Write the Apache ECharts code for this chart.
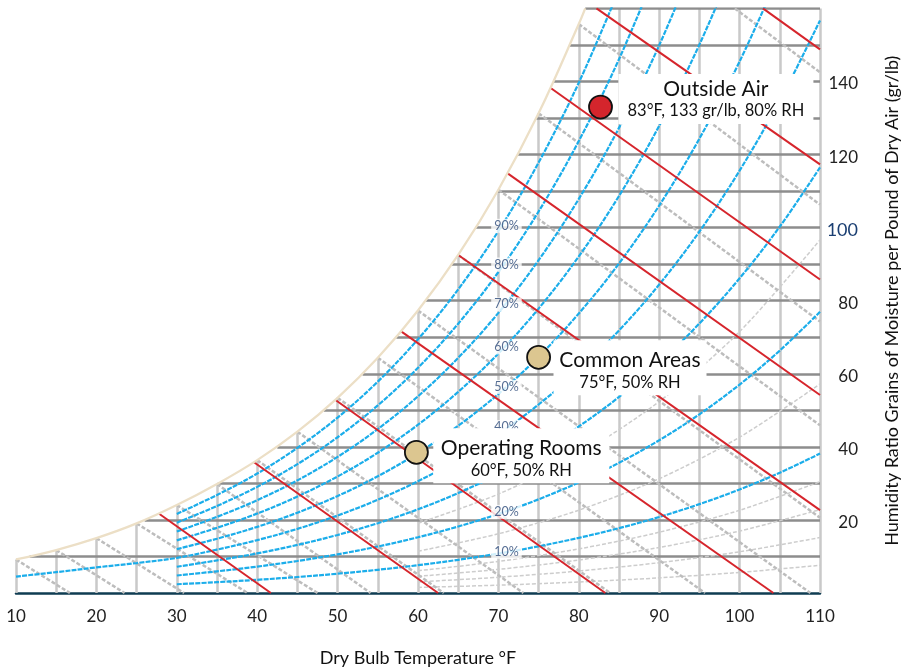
<!DOCTYPE html>
<html><head><meta charset="utf-8">
<script src="https://cdn.jsdelivr.net/npm/echarts@6/dist/echarts.min.js"></script>
<style>html,body{margin:0;padding:0;background:#fff;overflow:hidden}#c{width:904px;height:668px}</style>
</head><body><div id="c"></div>
<script>
// ---- Data (°F, grains of moisture per lb dry air) ----
const xTicks = [10,20,30,40,50,60,70,80,90,100,110];
const yTickLabels = [20,40,60,80,100,120,140];

// Saturation curve
const satT = [10,15,20,25,30,35,40,45,50,55,60,65,70,75,80,80.8];
const satW = [9.17,11.76,15.01,19.04,24.07,29.83,36.37,44.16,53.42,64.38,77.31,92.52,110.38,131.29,155.72,160];

// Vertical grid (dry bulb) lines: from 0 up to saturation
const vGridT = [10,15,20,25,30,35,40,45,50,55,60,65,70,75,80,85,90,95,100,105,110];
const vGridTop = [9.17,11.76,15.01,19.04,24.07,29.83,36.37,44.16,53.42,64.38,77.31,92.52,110.38,131.29,155.72,160,160,160,160,160,160];

// Horizontal grid (humidity ratio) lines: from saturation to 110 °F
const hGridW = [10,20,30,40,50,60,70,80,90,100,110,120,130,140,150,160];
const hGridStartT = [11.7,26.0,35.1,42.5,48.3,53.1,57.3,61.0,64.2,67.2,69.9,72.4,74.7,76.9,78.9,80.8];

// Relative humidity curves
const rhT = [30,35,40,45,50,55,60,65,70,75,80,85,90,95,100,105,110];
const rh10 = [2.40,2.96,3.61,4.38,5.28,6.35,7.61,9.08,10.79,12.78,15.09,17.74,20.80,24.32,28.34,32.93,38.15];
const rh20 = [4.79,5.93,7.22,8.76,10.58,12.72,15.25,18.20,21.63,25.64,30.28,35.63,41.81,48.91,57.05,66.35,76.96];
const rh30 = [7.19,8.91,10.84,13.16,15.89,19.11,22.91,27.35,32.53,38.58,45.58,53.66,63.01,73.77,86.13,100.29,116.47];
const rh40 = [9.60,11.88,14.47,17.56,21.21,25.52,30.60,36.54,43.48,51.59,60.99,71.85,84.42,98.92,115.61,134.76,156.70];
const rh50 = [12.00,14.86,18.10,21.98,26.54,31.95,38.32,45.78,54.49,64.67,76.50,90.18,106.04,124.36,145.48,169.76];
const rh60 = [14.41,17.85,21.74,26.40,31.89,38.39,46.06,55.05,65.55,77.84,92.12,108.66,127.87,150.09,175.75];
const rh70 = [16.82,20.84,25.39,30.83,37.25,44.86,53.83,64.36,76.67,91.09,107.86,127.30,149.91,176.12];
const rh80 = [19.24,23.83,29.04,35.27,42.63,51.34,61.63,73.71,87.85,104.41,123.70,146.10,172.18];
const rh90 = [21.65,26.83,32.69,39.72,48.01,57.85,69.46,83.10,99.08,117.81,139.66,165.06];
const rh40LowT = [10,15,20,25];
const rh40Low = [4.5,5.7,7.0,8.2];

// Faint low-RH curves (lower right)
const faintT = [60,70,80,90,100,110];
const faint2 = [1.52,2.15,3.01,4.14,5.64,7.58];
const faint4 = [3.04,4.31,6.02,8.30,11.29,15.18];
const faint6 = [4.56,6.47,9.04,12.46,16.96,22.81];
const faint8 = [6.09,8.63,12.07,16.63,22.64,30.47];
const faint15 = [11.43,16.21,22.67,31.28,42.65,57.21];
const faint25 = [19.08,27.08,37.92,52.41,71.55,96.65];

// Wet bulb lines (start -> end)
const wbStartT = [10,15,20,25,30,35,40,45,50,55,60,65,70,75,80,99.4];
const wbStartW = [9.17,11.76,15.01,19.04,24.07,29.83,36.37,44.16,53.42,64.38,77.31,92.52,110.38,131.29,155.72,160];
const wbEndT = [16.7,23.5,30.9,38.8,47.5,54.1,63.2,73.1,83.9,95.7,108.8,110,110,110,110,110];
const wbEndW = [0,0,0,0,0,0,0,0,0,0,0,20.6,45.9,74.3,106.3,142.5];

// Enthalpy lines (start -> end)
const enStartT = [27.8,39.6,49.7,57.9,65.0,71.15,76.5,82.2,102.9];
const enStartW = [21.7,35.8,52.9,71.6,92.5,114.85,138.2,160,160];
const enEndT = [41.7,62.5,83.3,104.2,110,110,110,110,110];
const enEndW = [0,0,0,0,22.7,54.2,85.8,117.3,148.8];

// RH labels
const rhLabelText = ['90%','80%','70%','60%','50%','40%','30%','20%','10%'];
const rhLabelT = [71,71,71,71,71,71,71,71,71];
const rhLabelW = [100.5,89.9,79.0,67.2,56.4,45.4,33.8,22.2,11.3];

// Highlighted states
const ptNames = ['Outside Air','Common Areas','Operating Rooms'];
const ptSub = ['83°F, 133 gr/lb, 80% RH','75°F, 50% RH','60°F, 50% RH'];
const ptT = [82.7,75.0,59.8];
const ptW = [133,64.5,38.5];

// ---- Chart ----
const F = 'Lato, "Noto Sans", "DejaVu Sans", sans-serif';
const pairs = (xs, ys) => ys.map((y,i)=>[xs[i], y]);
const segs = (x1,y1,x2,y2) => x1.map((x,i)=>({coords:[[x,y1[i]],[x2[i],y2[i]]]}));

const series = [];
series.push({type:'lines', coordinateSystem:'cartesian2d', silent:true, z:1,
  lineStyle:{color:'#c9c9c9', width:2.5, opacity:1},
  data: segs(vGridT, vGridT.map(()=>0), vGridT, vGridTop)});
series.push({type:'lines', coordinateSystem:'cartesian2d', silent:true, z:2,
  lineStyle:{color:'#8d8d8d', width:2.5, opacity:1},
  data: segs(hGridStartT, hGridW, hGridStartT.map(()=>110), hGridW)});

[faint2,faint4,faint6,faint8,faint15,faint25].forEach(arr=>{
  series.push({type:'line', silent:true, z:3, showSymbol:false, smooth:0.3,
    lineStyle:{color:'#cdcdcd', width:1.5, type:[4,2]}, data: pairs(faintT, arr)});
});

series.push({type:'lines', coordinateSystem:'cartesian2d', silent:true, z:4,
  lineStyle:{color:'#bdbdbd', width:2.5, type:[4,2], opacity:1},
  data: segs(wbStartT, wbStartW, wbEndT, wbEndW)});

const rhSets = [
  pairs(rhT, rh10), pairs(rhT, rh20), pairs(rhT, rh30),
  pairs(rh40LowT, rh40Low).concat(pairs(rhT, rh40)),
  pairs(rhT, rh50), pairs(rhT, rh60), pairs(rhT, rh70), pairs(rhT, rh80), pairs(rhT, rh90)
];
rhSets.forEach(d=>{
  series.push({type:'line', silent:true, z:5, showSymbol:false, smooth:0.35, clip:true,
    lineStyle:{color:'#1badea', width:2.2, type:[5,1.2]}, data:d});
});

series.push({type:'lines', coordinateSystem:'cartesian2d', silent:true, z:6,
  lineStyle:{color:'#d6252c', width:2, opacity:1},
  data: segs(enStartT, enStartW, enEndT, enEndW)});

series.push({type:'line', silent:true, z:6, showSymbol:false, smooth:0.4,
  lineStyle:{color:'#ecdfc6', width:2.3}, data: pairs(satT, satW)});

series.push({type:'scatter', silent:true, z:8, symbolSize:0,
  data: rhLabelText.map((t,i)=>({name:t, value:[rhLabelT[i], rhLabelW[i]]})),
  label:{show:true, position:'inside', formatter:'{b}', fontFamily:F, fontSize:12.5,
    color:'#2a4878', backgroundColor:'#fff', padding:[1,3,0,3]}});

const ptColors = ['#d4252c','#dcc690','#dcc690'];
const ptOffset = [[0,-8],[0,10.5],[0,3.5]];
const ptWidth = [183,141,164];
const ptPad = [[3,6,3,6],[8,6,3,6],[8,6,3,6]];
const ptDist = [5.5,2.5,4.5];
series.push({type:'scatter', silent:true, z:10, symbolSize:23,
  itemStyle:{borderColor:'#111', borderWidth:1.8, opacity:1},
  data: ptNames.map((n,i)=>({name:n, value:[ptT[i], ptW[i]],
    itemStyle:{color:ptColors[i]},
    label:{show:true, position:'right', distance:ptDist[i], offset:ptOffset[i],
      formatter:'{t|'+n+'}\n{s|'+ptSub[i]+'}',
      backgroundColor:'#fff', padding:ptPad[i], width:ptWidth[i],
      rich:{t:{fontFamily:F, fontSize:21, color:'#111', lineHeight:24, align:'center', width:ptWidth[i]},
            s:{fontFamily:F, fontSize:16.5, color:'#111', lineHeight:20, align:'center', width:ptWidth[i]}}}
  }))});

const chart = echarts.init(document.getElementById('c'));
chart.setOption({
  animation:false,
  backgroundColor:'#fff',
  grid:{left:16, right:84, top:8.4, bottom:75, containLabel:false, outerBoundsMode:'none'},
  xAxis:{type:'value', min:10, max:110, interval:10,
    axisLine:{show:true, onZero:false, lineStyle:{color:'#0f3c52', width:2.5}},
    axisTick:{show:false}, splitLine:{show:false},
    axisLabel:{fontFamily:F, fontSize:17, color:'#222', margin:15,
      formatter:v=> xTicks.includes(v)? String(v):''},
    name:'Dry Bulb Temperature °F', nameLocation:'middle', nameGap:56,
    nameTextStyle:{fontFamily:F, fontSize:18, color:'#111'}},
  yAxis:{type:'value', position:'right', min:0, max:160, interval:20,
    axisLine:{show:false}, axisTick:{show:false}, splitLine:{show:false},
    axisLabel:{fontFamily:F, fontSize:17, color:'#222', align:'right', margin:38,
      padding:[5,0,0,0],
      formatter:v=> v===100? '{b|100}' : (yTickLabels.includes(v)? String(v):''),
      rich:{b:{fontFamily:F, fontSize:18, color:'#1b3f72'}}},
    name:'Humidity Ratio Grains of Moisture per Pound of Dry Air (gr/lb)',
    nameLocation:'middle', nameGap:63,
    nameTextStyle:{fontFamily:F, fontSize:18, color:'#111'}},
  series
});
</script></body></html>
